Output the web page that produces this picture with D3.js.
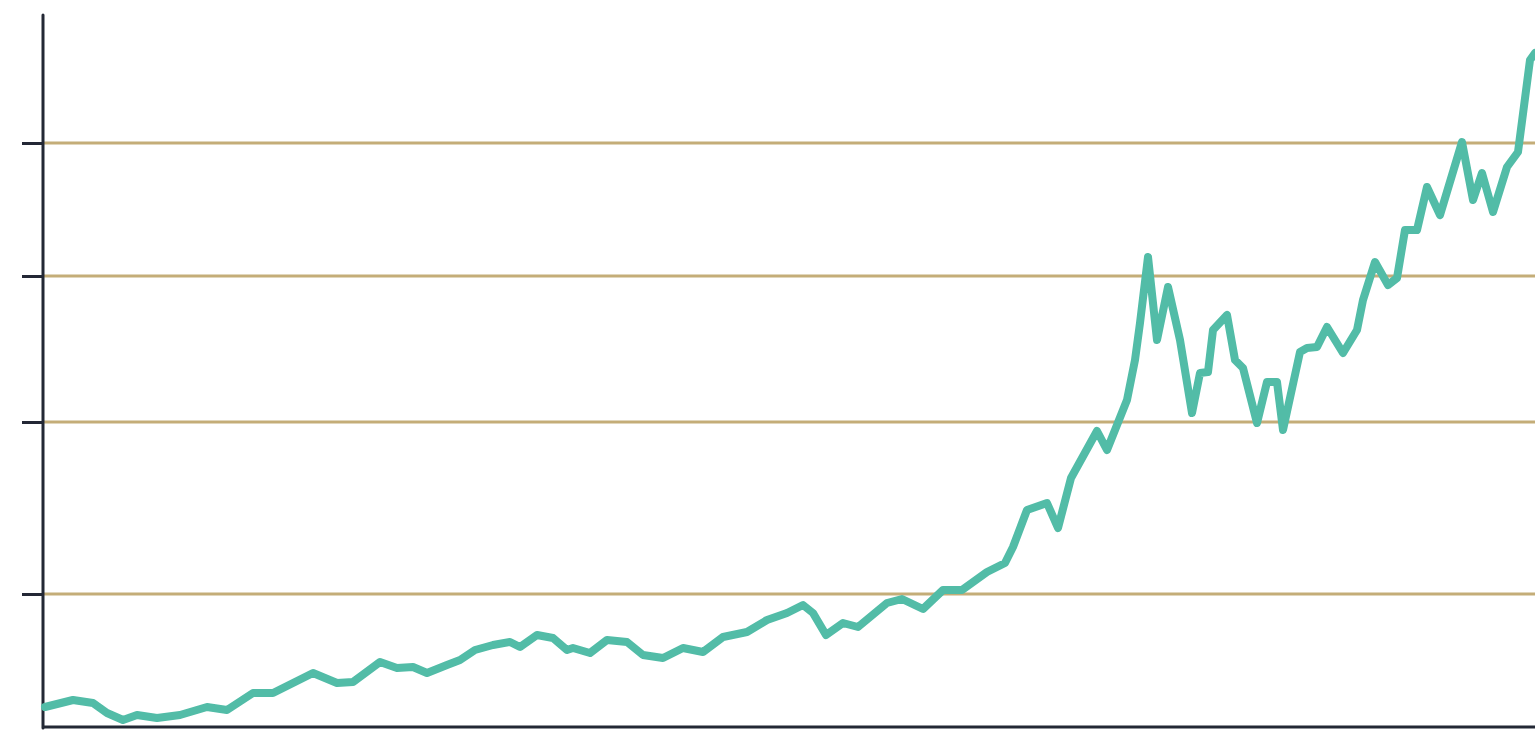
<!DOCTYPE html>
<html>
<head>
<meta charset="utf-8">
<script src="https://cdn.jsdelivr.net/npm/d3@7/dist/d3.min.js"></script>
<style>
  html, body { margin: 0; padding: 0; background: #ffffff; }
  svg { display: block; }
</style>
</head>
<body>
<svg id="chart" width="1535" height="730"></svg>
<script>
// ---- data ----
const periods = [0, 2.8, 4.8, 6.2, 7.8, 9.2, 11.2, 13.5, 16.2, 18.2,
  20.8, 22.8, 24.8, 26.8, 29.2, 30.8, 33.5, 35.2, 36.8, 38.2,
  40.2, 41.5, 43.0, 44.8, 46.5, 47.5, 49.2, 50.8, 52.2, 52.8,
  54.5, 56.2, 58.2, 59.8, 61.8, 63.8, 65.8, 67.8, 70.2, 72.2,
  74.2, 75.8, 76.8, 78.1, 79.8, 81.3, 84.2, 85.7, 87.8, 89.8,
  91.7, 94.2, 96.0, 96.8, 98.2, 100.2, 101.3, 102.6, 105.2, 106.2,
  108.2, 109.0, 109.5, 110.3, 111.2, 112.3, 113.5, 114.7, 115.5, 116.3,
  116.8, 118.2, 119.0, 119.8, 121.2, 122.2, 123.2, 123.8, 125.5, 126.2,
  127.2, 128.2, 129.8, 131.2, 131.8, 133.0, 134.3, 135.2, 136.0, 137.2,
  138.2, 139.5, 141.7, 142.8, 143.7, 144.8, 146.2, 147.3, 148.5, 149.0];
const values = [2.0, 2.7, 2.4, 1.4, 0.7, 1.2, 0.9, 1.2, 2.0, 1.7,
  3.4, 3.4, 4.4, 5.4, 4.4, 4.5, 6.5, 5.9, 6.0, 5.4,
  6.2, 6.7, 7.7, 8.2, 8.5, 8.0, 9.2, 8.9, 7.7, 7.9,
  7.4, 8.7, 8.5, 7.2, 6.9, 7.9, 7.5, 9.0, 9.5, 10.7,
  11.4, 12.2, 11.4, 9.2, 10.4, 10.0, 12.4, 12.8, 11.8, 13.7,
  13.7, 15.5, 16.4, 18.0, 21.7, 22.4, 19.9, 24.9, 29.6, 27.7,
  32.7, 36.7, 40.4, 47.0, 38.7, 44.0, 38.7, 31.4, 35.4, 35.5,
  39.7, 41.2, 36.7, 35.9, 30.4, 34.5, 34.5, 29.7, 37.5, 37.9,
  38.0, 40.0, 37.4, 39.7, 42.7, 46.5, 44.2, 44.9, 49.7, 49.7,
  54.0, 51.2, 58.5, 52.7, 55.4, 51.5, 56.0, 57.5, 66.7, 67.4];
const gridTicks = [13.3, 30.5, 45.1, 58.4];
const xDomain = [0, 149];
const yDomain = [0, 71.2];

// ---- chart ----
const svg = d3.select("#chart");
const W = 1535, H = 730;
const plotLeft = 43, plotBottom = 727, plotTop = 15;

const x = d3.scaleLinear().domain(xDomain).range([45, 1535]);
const y = d3.scaleLinear().domain(yDomain).range([plotBottom, plotTop]);

// gridlines
svg.append("g")
  .selectAll("line")
  .data(gridTicks)
  .join("line")
  .attr("x1", plotLeft)
  .attr("x2", W)
  .attr("y1", d => y(d))
  .attr("y2", d => y(d))
  .attr("stroke", "#c4ad78")
  .attr("stroke-width", 3);

// y axis with ticks
const yAxis = d3.axisLeft(y)
  .tickValues(gridTicks)
  .tickSize(21)
  .tickFormat("");
const gy = svg.append("g")
  .attr("transform", `translate(${plotLeft},0)`)
  .call(yAxis);
gy.select(".domain").remove();
gy.selectAll(".tick line").attr("stroke", "#232835").attr("stroke-width", 3);
svg.append("line")
  .attr("x1", plotLeft).attr("x2", plotLeft)
  .attr("y1", plotTop).attr("y2", plotBottom + 1)
  .attr("stroke", "#232835").attr("stroke-width", 3)
  .attr("stroke-linecap", "round");

// x axis
const xAxis = d3.axisBottom(x).tickValues([]).tickSizeOuter(0);
const gx = svg.append("g")
  .attr("transform", `translate(0,${plotBottom})`)
  .call(xAxis);
gx.select(".domain")
  .attr("d", `M${plotLeft},0H${W}`)
  .attr("stroke", "#232835")
  .attr("stroke-width", 3);

// line
const data = periods.map((p, i) => ({ t: p, v: values[i] }));
const line = d3.line()
  .x(d => x(d.t))
  .y(d => y(d.v))
  .curve(d3.curveLinear);

svg.append("path")
  .datum(data)
  .attr("d", line)
  .attr("fill", "none")
  .attr("stroke", "#52bca7")
  .attr("stroke-width", 8)
  .attr("stroke-linejoin", "round")
  .attr("stroke-linecap", "round");
</script>
</body>
</html>
